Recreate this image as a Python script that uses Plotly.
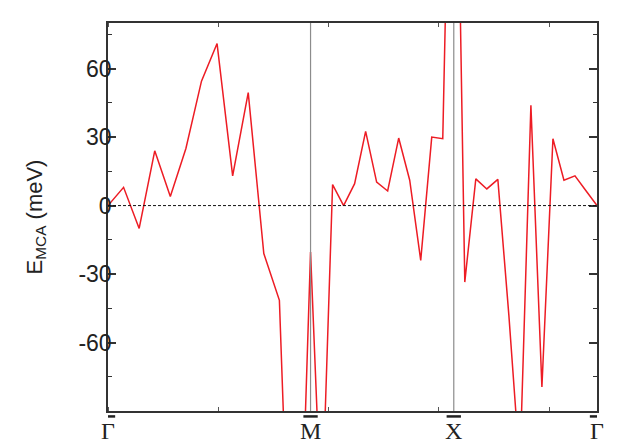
import numpy as np
import plotly.graph_objects as go

# high-symmetry path Γ-M-X-Γ (square lattice), 13 k-steps per segment
kpath_labels = ['Γ', 'M', 'X', 'Γ']
seg_lengths = [np.sqrt(2), 1.0, 1.0]
steps_per_seg = 13

# E_MCA (meV) along the path
e_gm = [0, 8, -10, 24, 4, 25, 54.5, 71, 13, 49.5, -21, -41.5, -235, -20.3]
e_mx = [-140, 9.2, 0, 9.6, 32.5, 10.3, 6.4, 29.6, 11.1, -24, 30, 29.3, 256]
e_xg = [-33.5, 11.7, 7.3, 11.5, -48, -115, 44, -79.5, 29.3, 11.1, 13, 6.5, 0]
emca = e_gm + e_mx + e_xg

ytick_vals = [-60, -30, 0, 30, 60]
ytick_text = ['-60', '-30', '0', '30', '60']

# build k coordinate from segment lengths
knodes = np.concatenate([[0], np.cumsum(seg_lengths)])
k = [0.0]
for i, L in enumerate(seg_lengths):
    k += list(knodes[i] + L * np.arange(1, steps_per_seg + 1) / steps_per_seg)

fig = go.Figure()

fig.add_trace(go.Scatter(
    x=k, y=emca, mode='lines',
    line=dict(color='#ED1C24', width=1.5),
    showlegend=False
))

# zero line
fig.add_hline(y=0, line=dict(color='#111111', width=1, dash='3px,2px'))

# vertical lines at the inner high-symmetry points
for kv in knodes[1:-1]:
    fig.add_shape(type='line', xref='x', yref='paper', x0=kv, x1=kv, y0=0, y1=1,
                  line=dict(color='#8c8c8c', width=1.2))

# overbars on the k-point labels
for kv in knodes:
    fig.add_shape(type='line', xref='x', yref='paper', x0=kv - 0.05, x1=kv + 0.05,
                  y0=-0.014, y1=-0.014, line=dict(color='#222222', width=2.5))

# body of the page adds an 8px offset, so the figure is 8px smaller on each side
fig.update_layout(
    width=613, height=436,
    margin=dict(l=100, r=24, t=15, b=33),
    plot_bgcolor='white',
    paper_bgcolor='white',
    font=dict(family='Liberation Sans, Arial, sans-serif', size=23, color='#222222'),
    xaxis=dict(
        range=[0, knodes[-1]],
        tickmode='array', tickvals=list(knodes), ticktext=kpath_labels,
        ticks='', showgrid=False, zeroline=False, automargin=False,
        tickfont=dict(family='Liberation Serif, Times New Roman, serif', size=24),
        ticklabelstandoff=-3,
        showline=True, linecolor='#333333', linewidth=1.5, mirror='ticks',
        minor=dict(tick0=0, dtick=0.77, ticks='inside', ticklen=4,
                   tickcolor='#555555', tickwidth=1),
    ),
    yaxis=dict(
        range=[-90, 80], automargin=False,
        tickmode='array', tickvals=ytick_vals, ticktext=ytick_text,
        ticks='inside', ticklen=8, tickwidth=1.5, tickcolor='#333333',
        showgrid=False, zeroline=False,
        showline=True, linecolor='#333333', linewidth=1.5, mirror='ticks',
        ticklabelstandoff=-10,
        minor=dict(dtick=15, ticks='inside', ticklen=4, tickwidth=1.2,
                   tickcolor='#333333'),
        title=dict(text='E<sub>MCA</sub> (meV)', font=dict(size=22), standoff=30),
    ),
)

fig.write_html('out.html')
